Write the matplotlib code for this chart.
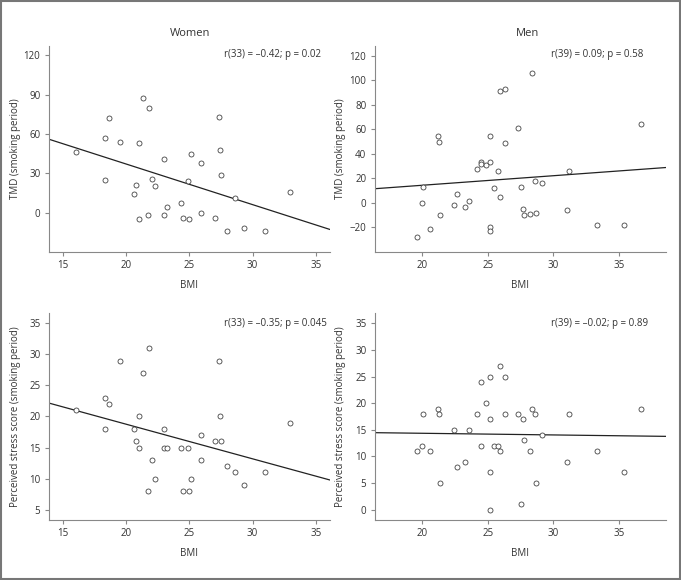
import numpy as np
import matplotlib as mpl
mpl.use('Agg')
from matplotlib import pyplot as plt

plt.rcParams['font.family'] = ['Open Sans', 'DejaVu Sans']
plt.rcParams['axes.unicode_minus'] = True

#------------------- Data --------------------------------------------
bmi_women = [16.0, 18.3, 18.3, 18.6, 19.5, 20.6, 20.8, 21.0, 21.0, 21.3, 21.7,
             21.8, 22.0, 22.3, 23.0, 23.0, 23.2, 24.3, 24.5, 24.9, 25.0, 25.1,
             25.9, 25.9, 27.0, 27.3, 27.4, 27.5, 28.0, 28.6, 29.3, 31.0, 33.0]
tmd_women = [46, 57, 25, 72, 54, 14, 21, 53, -5, 87, -2,
             80, 26, 20, 41, -2, 4, 7, -4, 24, -5, 45,
             38, 0, -4, 73, 48, 29, -14, 11, -12, -14, 16]
stress_women = [21, 23, 18, 22, 29, 18, 16, 20, 15, 27, 8,
                31, 13, 10, 18, 15, 15, 15, 8, 15, 8, 10,
                17, 13, 16, 29, 20, 16, 12, 11, 9, 11, 19]

bmi_men = [19.6, 20.0, 20.1, 20.6, 21.2, 21.3, 21.4, 22.4, 22.7, 23.3, 23.6,
           24.2, 24.5, 24.5, 24.9, 25.2, 25.2, 25.2, 25.2, 25.5, 25.8, 25.9,
           25.9, 26.3, 26.3, 27.3, 27.5, 27.7, 27.8, 28.2, 28.4, 28.6, 28.7,
           29.1, 31.0, 31.2, 33.3, 35.4, 36.7]
tmd_men = [-28, 0, 13, -21, 55, 50, -10, -2, 7, -3, 2,
           28, 33, 32, 31, 55, 33, -20, -23, 12, 26, 91,
           5, 93, 49, 61, 13, -5, -10, -9, 106, 18, -8,
           16, -6, 26, -18, -18, 64]
stress_men = [11, 12, 18, 11, 19, 18, 5, 15, 8, 9, 15,
              18, 24, 12, 20, 25, 17, 7, 0, 12, 12, 27,
              11, 25, 18, 18, 1, 17, 13, 11, 19, 18, 5,
              14, 9, 18, 11, 7, 19]

# regression lines (slope, intercept)
fit_tmd_women = (-3.09, 98.8)
fit_stress_women = (-0.556, 29.87)
fit_tmd_men = (0.78, -1.19)
fit_stress_men = (-0.0312, 14.98)

stats = ['r(33) = \u20130.42; p = 0.02', 'r(39) = 0.09; p = 0.58',
         'r(33) = \u20130.35; p = 0.045', 'r(39) = \u20130.02; p = 0.89']

#--------------------- PLOTs ------------------------
W, H = 681, 580
fig = plt.figure(figsize=(W / 100, H / 100), dpi=100)
txt = '#333333'

def px(l, r, t, b):
    return [l / W, 1 - b / H, (r - l) / W, (b - t) / H]

panels = [
    (px(48.7, 330, 46, 252), bmi_women, tmd_women, fit_tmd_women, (13.85, 36.13), (-30, 127),
     [15, 20, 25, 30, 35], [0, 30, 60, 90, 120], 'TMD (smoking period)', stats[0], 224, 55),
    (px(374.7, 665.7, 46, 252), bmi_men, tmd_men, fit_tmd_men, (16.4, 38.55), (-40, 128),
     [20, 25, 30, 35], [-20, 0, 20, 40, 60, 80, 100, 120], 'TMD (smoking period)', stats[1], 550.7, 55),
    (px(48.7, 330, 313.3, 520), bmi_women, stress_women, fit_stress_women, (13.85, 36.13), (3.35, 36.6),
     [15, 20, 25, 30, 35], [5, 10, 15, 20, 25, 30, 35], 'Perceived stress score (smoking period)', stats[2], 224, 323.3),
    (px(374.7, 665.7, 313.3, 520), bmi_men, stress_men, fit_stress_men, (16.4, 38.55), (-1.94, 36.9),
     [20, 25, 30, 35], [0, 5, 10, 15, 20, 25, 30, 35], 'Perceived stress score (smoking period)', stats[3], 550.7, 323.3),
]

for rect, x, y, fit, xl, yl, xt, yt, ylab, stat, sx, sy in panels:
    axe = fig.add_axes(rect)
    axe.plot(x, y, 'o', markersize=3.6, markerfacecolor='white',
             markeredgecolor='#444444', markeredgewidth=0.6, zorder=3)
    xx = np.array(xl)
    axe.plot(xx, fit[1] + fit[0] * xx, color='#222222', linewidth=0.9, zorder=2)
    axe.set_xlim(xl)
    axe.set_ylim(yl)
    axe.set_xticks(xt)
    axe.set_yticks(yt)
    for s in ['top', 'right']:
        axe.spines[s].set_visible(False)
    for s in ['left', 'bottom']:
        axe.spines[s].set_color('#888888')
        axe.spines[s].set_linewidth(0.8)
    axe.tick_params(direction='out', length=3, width=0.8, color='#888888',
                    labelsize=7, labelcolor=txt, pad=3)
    axe.set_xlabel('BMI', fontsize=7, color=txt)
    axe.set_ylabel(ylab, fontsize=7, color=txt)
    axe.xaxis.set_label_coords(0.5, -0.136)
    axe.yaxis.set_label_coords(-0.099, 0.5)
    fig.text(sx / W, 1 - sy / H, stat, fontsize=7, color=txt, ha='left', va='center')

fig.text(190 / W, 1 - 33 / H, 'Women', fontsize=8, color=txt, ha='center', va='center')
fig.text(527.7 / W, 1 - 33 / H, 'Men', fontsize=8, color=txt, ha='center', va='center')

# outer frame
fig.patches.append(plt.Rectangle((0.001, 0.001), 0.997, 0.997, transform=fig.transFigure,
                                 fill=False, edgecolor='#777777', linewidth=1.5))

plt.savefig('out.png', dpi=100)
